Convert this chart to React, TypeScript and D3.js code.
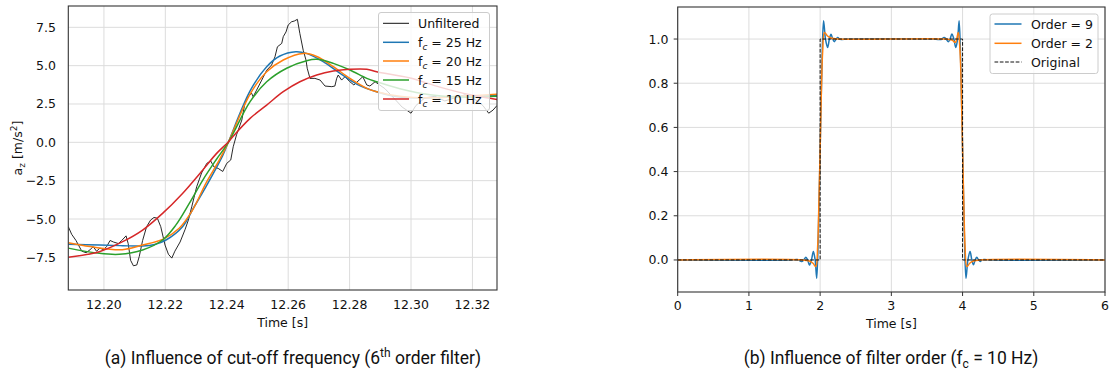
import React from "react";
import * as d3 from "d3";

type P = [number, number];

// ---------- Left panel data (time [s], a_z [m/s^2]) ----------
const unfiltered: P[] = [
  [12.1884, -5.5], [12.1895, -6.0], [12.1909, -6.4], [12.1928, -7.1], [12.1942, -7.2],
  [12.1955, -7.0], [12.1965, -6.8], [12.1976, -7.1], [12.1987, -6.9], [12.1998, -7.0],
  [12.2009, -6.8], [12.202, -6.4], [12.2031, -6.5], [12.2047, -6.6], [12.2058, -6.4],
  [12.2072, -6.1], [12.2079, -6.6], [12.2087, -7.7], [12.2096, -8.05], [12.2107, -8.0],
  [12.2115, -7.45], [12.2126, -6.4], [12.2139, -5.5], [12.2152, -5.07], [12.2163, -4.9],
  [12.2174, -4.95], [12.2185, -5.5], [12.2199, -6.7], [12.221, -7.3], [12.2221, -7.55],
  [12.2231, -7.1], [12.2248, -6.5], [12.2264, -5.7], [12.2275, -5.07], [12.2286, -4.2],
  [12.2302, -2.9], [12.2318, -2.0], [12.2335, -1.37], [12.2348, -1.22], [12.2358, -1.6],
  [12.2372, -1.7], [12.2387, -1.9], [12.24, -1.37], [12.2413, -1.15], [12.2421, -0.29],
  [12.2432, 0.5], [12.2449, 1.45], [12.2459, 2.54], [12.247, 2.97], [12.2481, 3.2],
  [12.2486, 2.97], [12.2497, 3.4], [12.2514, 4.06], [12.253, 4.7], [12.2546, 5.04],
  [12.2557, 5.58], [12.2565, 6.23], [12.2579, 6.45], [12.2584, 6.89], [12.2593, 7.2],
  [12.26, 7.65], [12.2611, 7.86], [12.262, 7.91], [12.263, 8.02], [12.2638, 7.1],
  [12.2649, 6.0], [12.2658, 5.37], [12.2662, 4.83], [12.2671, 4.17], [12.2687, 4.17],
  [12.2704, 4.06], [12.272, 3.67], [12.2742, 3.63], [12.2752, 3.67], [12.2758, 4.17],
  [12.2763, 4.39], [12.2774, 4.06], [12.2785, 4.28], [12.2801, 3.95], [12.2814, 3.74],
  [12.2831, 4.06], [12.2843, 4.28], [12.2856, 3.74], [12.2866, 3.67], [12.2883, 3.95],
  [12.2915, 3.5], [12.2948, 2.8], [12.2971, 2.3], [12.2986, 2.1], [12.3, 1.9],
  [12.3016, 2.4], [12.3045, 2.9], [12.3078, 3.0], [12.311, 2.7], [12.3143, 2.9],
  [12.3176, 3.1], [12.3208, 2.8], [12.3234, 2.4], [12.3253, 1.9], [12.3267, 2.1],
  [12.328, 2.4],
];

const fc25: P[] = [
  [12.1884, -6.65], [12.1987, -6.7], [12.2061, -6.74], [12.2126, -6.76], [12.2165, -6.66],
  [12.2202, -6.37], [12.2256, -5.5], [12.2294, -4.2], [12.2332, -2.9], [12.2387, -0.85],
  [12.2405, 0.0], [12.2476, 3.35], [12.253, 4.93], [12.2573, 5.63], [12.2625, 5.91],
  [12.266, 5.8], [12.2714, 5.26], [12.2769, 4.5], [12.2823, 3.8], [12.2888, 3.3],
  [12.2964, 2.95], [12.3062, 2.9], [12.3159, 3.0], [12.328, 3.05],
];

const fc20: P[] = [
  [12.1884, -6.55], [12.1955, -6.8], [12.206, -7.0], [12.2126, -6.7], [12.2191, -6.33],
  [12.2245, -5.6], [12.2289, -4.4], [12.2332, -2.67], [12.2376, -1.15], [12.2405, 0.0],
  [12.2476, 3.15], [12.253, 4.6], [12.2584, 5.37], [12.2649, 5.8], [12.2693, 5.6],
  [12.2747, 4.93], [12.2801, 4.17], [12.2856, 3.52], [12.2888, 3.3], [12.2964, 3.0],
  [12.3062, 2.9], [12.3159, 3.0], [12.328, 3.13],
];

const fc15: P[] = [
  [12.1884, -6.9], [12.1985, -7.24], [12.205, -7.3], [12.2126, -7.02], [12.2191, -6.37],
  [12.2234, -5.4], [12.2278, -3.98], [12.2322, -2.46], [12.2365, -1.15], [12.2405, 0.0],
  [12.2476, 2.65], [12.253, 3.95], [12.2595, 4.83], [12.266, 5.32], [12.2693, 5.41],
  [12.2747, 5.15], [12.2801, 4.72], [12.2856, 4.17], [12.2888, 3.95], [12.2964, 3.5],
  [12.3062, 3.1], [12.3159, 2.95], [12.328, 3.0],
];

const fc10: P[] = [
  [12.1884, -7.5], [12.1985, -7.13], [12.2061, -6.48], [12.2126, -5.72], [12.2191, -4.63],
  [12.2256, -3.33], [12.2322, -1.8], [12.2367, -0.72], [12.2405, 0.02], [12.2421, 0.4],
  [12.2476, 1.56], [12.253, 2.43], [12.2584, 3.3], [12.2638, 3.95], [12.2693, 4.39],
  [12.2747, 4.65], [12.2801, 4.76], [12.2856, 4.76], [12.2888, 4.6], [12.2997, 4.2],
  [12.3094, 3.6], [12.3192, 3.1], [12.328, 2.8],
];

// ---------- Right panel data (time [s], amplitude) ----------
const order9: P[] = [
  [0, 0], [1.6, 0], [1.68, 0.002], [1.74, -0.007], [1.77, 0], [1.8, 0.012], [1.825, 0],
  [1.85, -0.023], [1.878, 0], [1.905, 0.038], [1.93, 0], [1.952, -0.083], [1.975, 0.12],
  [2.0, 0.5], [2.025, 0.88], [2.048, 1.083], [2.075, 1.0], [2.105, 0.962], [2.13, 1.0],
  [2.153, 1.022], [2.177, 1.0], [2.2, 0.988], [2.225, 1.0], [2.248, 1.007], [2.27, 1.0],
  [2.3, 0.998], [2.4, 1.0], [3.6, 1.0], [3.7, 0.998], [3.74, 1.007], [3.77, 1.0],
  [3.8, 0.988], [3.825, 1.0], [3.85, 1.023], [3.878, 1.0], [3.905, 0.962], [3.93, 1.0],
  [3.952, 1.083], [3.975, 0.88], [4.0, 0.5], [4.025, 0.12], [4.048, -0.083], [4.075, 0],
  [4.105, 0.038], [4.13, 0], [4.153, -0.022], [4.177, 0], [4.2, 0.012], [4.225, 0],
  [4.248, -0.007], [4.27, 0], [4.3, 0.002], [4.4, 0], [6, 0],
];

const order2: P[] = [
  [0, 0], [1.75, 0], [1.85, -0.005], [1.9, -0.015], [1.94, -0.03], [1.965, 0.06],
  [1.98, 0.22], [2.0, 0.5], [2.02, 0.8], [2.035, 0.94], [2.06, 1.03], [2.1, 1.015],
  [2.15, 1.005], [2.25, 1.0], [3.75, 1.0], [3.85, 0.995], [3.9, 0.985], [3.94, 1.03],
  [3.965, 0.94], [3.98, 0.8], [4.0, 0.5], [4.02, 0.22], [4.035, 0.06], [4.06, -0.03],
  [4.1, -0.015], [4.15, -0.005], [4.25, 0], [6, 0],
];

const original: P[] = [[0, 0], [2, 0], [2, 1], [4, 1], [4, 0], [6, 0]];

// ---------- Ticks ----------
const leftXTicks = [12.2, 12.22, 12.24, 12.26, 12.28, 12.3, 12.32];
const leftYTicks = [-7.5, -5.0, -2.5, 0.0, 2.5, 5.0, 7.5];
const rightXTicks = [0, 1, 2, 3, 4, 5, 6];
const rightYTicks = [0.0, 0.2, 0.4, 0.6, 0.8, 1.0];

const leftLabels = ["25", "20", "15", "10"];
const rightLabels = ["Order = 9", "Order = 2", "Original"];

const BLUE = "#1f77b4";
const ORANGE = "#ff7f0e";
const GREEN = "#2ca02c";
const RED = "#d62728";
const FONT = "DejaVu Sans, sans-serif";
const FS = 12.5;
const GRID = "#dcdcdc";
const SPINE = "#333333";
const TXT = "#111111";

export default function App() {
  // Left axes
  const L = { x0: 68.3, x1: 497, y0: 6, y1: 290 };
  const xL = d3.scaleLinear().domain([12.1884, 12.328]).range([L.x0, L.x1]);
  const yL = d3.scaleLinear().domain([-9.63, 8.89]).range([L.y1, L.y0]);
  // Right axes
  const R = { x0: 677.7, x1: 1105, y0: 7, y1: 292 };
  const xR = d3.scaleLinear().domain([0, 6]).range([R.x0, R.x1]);
  const yR = d3.scaleLinear().domain([-0.145, 1.145]).range([R.y1, R.y0]);

  const lineL = d3.line<P>().x((d) => xL(d[0])).y((d) => yL(d[1]));
  const smoothL = d3
    .line<P>()
    .x((d) => xL(d[0]))
    .y((d) => yL(d[1]))
    .curve(d3.curveCatmullRom.alpha(0.5));
  const lineR = d3.line<P>().x((d) => xR(d[0])).y((d) => yR(d[1]));
  const smoothR = d3
    .line<P>()
    .x((d) => xR(d[0]))
    .y((d) => yR(d[1]))
    .curve(d3.curveCatmullRom.alpha(0.5));

  const fmt2 = d3.format(".2f");
  const fmt1 = d3.format(".1f");
  const fmt0 = d3.format("d");

  const leftSeries = [
    { data: fc25, color: BLUE },
    { data: fc20, color: ORANGE },
    { data: fc15, color: GREEN },
    { data: fc10, color: RED },
  ];

  const leftLegendRows = [23.3, 42.3, 61, 80, 99];
  const rightLegendRows = [24, 43.3, 62];

  return (
    <svg
      width={1110}
      height={380}
      style={{ position: "absolute", left: 0, top: 0, background: "#fff" }}
      fontFamily={FONT}
    >
      <defs>
        <clipPath id="clipL">
          <rect x={L.x0} y={L.y0} width={L.x1 - L.x0} height={L.y1 - L.y0} />
        </clipPath>
        <clipPath id="clipR">
          <rect x={R.x0} y={R.y0} width={R.x1 - R.x0} height={R.y1 - R.y0} />
        </clipPath>
      </defs>
      <rect x={0} y={0} width={1110} height={380} fill="#fff" />

      {/* ================= LEFT PANEL ================= */}
      <g>
        {leftXTicks.map((t) => (
          <line key={"lgx" + t} x1={xL(t)} x2={xL(t)} y1={L.y0} y2={L.y1} stroke={GRID} strokeWidth={1} />
        ))}
        {leftYTicks.map((t) => (
          <line key={"lgy" + t} x1={L.x0} x2={L.x1} y1={yL(t)} y2={yL(t)} stroke={GRID} strokeWidth={1} />
        ))}
        <g clipPath="url(#clipL)">
          <path d={lineL(unfiltered) || ""} fill="none" stroke="#111" strokeWidth={0.9} />
          {leftSeries.map((s, i) => (
            <path key={"ls" + i} d={smoothL(s.data) || ""} fill="none" stroke={s.color} strokeWidth={1.5} />
          ))}
        </g>
        <rect x={L.x0} y={L.y0} width={L.x1 - L.x0} height={L.y1 - L.y0} fill="none" stroke={SPINE} strokeWidth={1.1} />
        {leftXTicks.map((t) => (
          <text key={"lxt" + t} x={xL(t)} y={309} fontSize={FS} textAnchor="middle" fill={TXT}>
            {fmt2(t)}
          </text>
        ))}
        {leftYTicks.map((t) => (
          <text key={"lyt" + t} x={56} y={yL(t) + 4.5} fontSize={FS} textAnchor="end" fill={TXT}>
            {fmt1(t)}
          </text>
        ))}
        <text x={(L.x0 + L.x1) / 2} y={326.5} fontSize={FS} textAnchor="middle" fill={TXT}>
          Time [s]
        </text>
        <text transform={`translate(21.5,${(L.y0 + L.y1) / 2}) rotate(-90)`} fontSize={FS} textAnchor="middle" fill={TXT}>
          <tspan>a</tspan>
          <tspan fontSize={9} dy={3}>z</tspan>
          <tspan dy={-3}> [m/s</tspan>
          <tspan fontSize={9} dy={-5}>2</tspan>
          <tspan dy={5}>]</tspan>
        </text>

        {/* legend */}
        <rect x={378.5} y={12.5} width={111} height={98} rx={2.5} fill="#fff" fillOpacity={0.8} stroke="#cccccc" strokeWidth={1} />
        <line x1={383} x2={409} y1={leftLegendRows[0]} y2={leftLegendRows[0]} stroke="#111" strokeWidth={1} />
        <text x={418} y={leftLegendRows[0] + 4.5} fontSize={FS} fill={TXT}>Unfiltered</text>
        {leftSeries.map((s, i) => (
          <g key={"lleg" + i}>
            <line x1={383} x2={409} y1={leftLegendRows[i + 1]} y2={leftLegendRows[i + 1]} stroke={s.color} strokeWidth={1.5} />
            <text x={418} y={leftLegendRows[i + 1] + 4.5} fontSize={FS} fill={TXT}>
              <tspan>f</tspan>
              <tspan fontSize={9} dy={3} fontStyle="italic">c</tspan>
              <tspan dy={-3}>{` = ${leftLabels[i]} Hz`}</tspan>
            </text>
          </g>
        ))}
      </g>

      {/* ================= RIGHT PANEL ================= */}
      <g>
        {rightXTicks.map((t) => (
          <line key={"rgx" + t} x1={xR(t)} x2={xR(t)} y1={R.y0} y2={R.y1} stroke={GRID} strokeWidth={1} />
        ))}
        {rightYTicks.map((t) => (
          <line key={"rgy" + t} x1={R.x0} x2={R.x1} y1={yR(t)} y2={yR(t)} stroke={GRID} strokeWidth={1} />
        ))}
        <g clipPath="url(#clipR)">
          <path d={smoothR(order9) || ""} fill="none" stroke={BLUE} strokeWidth={1.5} />
          <path d={smoothR(order2) || ""} fill="none" stroke={ORANGE} strokeWidth={1.5} />
          <path d={lineR(original) || ""} fill="none" stroke="#111" strokeWidth={1} strokeDasharray="3.7 1.6" />
        </g>
        <rect x={R.x0} y={R.y0} width={R.x1 - R.x0} height={R.y1 - R.y0} fill="none" stroke={SPINE} strokeWidth={1.1} />
        {rightXTicks.map((t) => (
          <g key={"rxt" + t}>
            <line x1={xR(t)} x2={xR(t)} y1={R.y1} y2={R.y1 + 4} stroke={SPINE} strokeWidth={1} />
            <text x={xR(t)} y={310} fontSize={FS} textAnchor="middle" fill={TXT}>
              {fmt0(t)}
            </text>
          </g>
        ))}
        {rightYTicks.map((t) => (
          <g key={"ryt" + t}>
            <line x1={R.x0 - 4} x2={R.x0} y1={yR(t)} y2={yR(t)} stroke={SPINE} strokeWidth={1} />
            <text x={668.5} y={yR(t) + 4.5} fontSize={FS} textAnchor="end" fill={TXT}>
              {fmt1(t)}
            </text>
          </g>
        ))}
        <text x={(R.x0 + R.x1) / 2} y={327.5} fontSize={FS} textAnchor="middle" fill={TXT}>
          Time [s]
        </text>

        {/* legend */}
        <rect x={990} y={14} width={108} height={59.5} rx={2.5} fill="#fff" fillOpacity={0.8} stroke="#cccccc" strokeWidth={1} />
        <line x1={994.5} x2={1021.5} y1={rightLegendRows[0]} y2={rightLegendRows[0]} stroke={BLUE} strokeWidth={1.5} />
        <line x1={994.5} x2={1021.5} y1={rightLegendRows[1]} y2={rightLegendRows[1]} stroke={ORANGE} strokeWidth={1.5} />
        <line x1={994.5} x2={1021.5} y1={rightLegendRows[2]} y2={rightLegendRows[2]} stroke="#111" strokeWidth={1} strokeDasharray="3.7 1.6" />
        {rightLabels.map((lab, i) => (
          <text key={"rl" + i} x={1031} y={rightLegendRows[i] + 4.5} fontSize={FS} fill={TXT}>
            {lab}
          </text>
        ))}
      </g>

      {/* ================= CAPTIONS ================= */}
      <text x={293} y={364} fontSize={17.5} fontFamily="Roboto, sans-serif" textAnchor="middle" fill="#111">
        <tspan>(a) Influence of cut-off frequency (6</tspan>
        <tspan fontSize={12} dy={-7}>th</tspan>
        <tspan dy={7}> order filter)</tspan>
      </text>
      <text x={891} y={364} fontSize={17.5} fontFamily="Roboto, sans-serif" textAnchor="middle" fill="#111">
        <tspan>(b) Influence of filter order (f</tspan>
        <tspan fontSize={12} dy={4}>c</tspan>
        <tspan dy={-4}> = 10 Hz)</tspan>
      </text>
    </svg>
  );
}
